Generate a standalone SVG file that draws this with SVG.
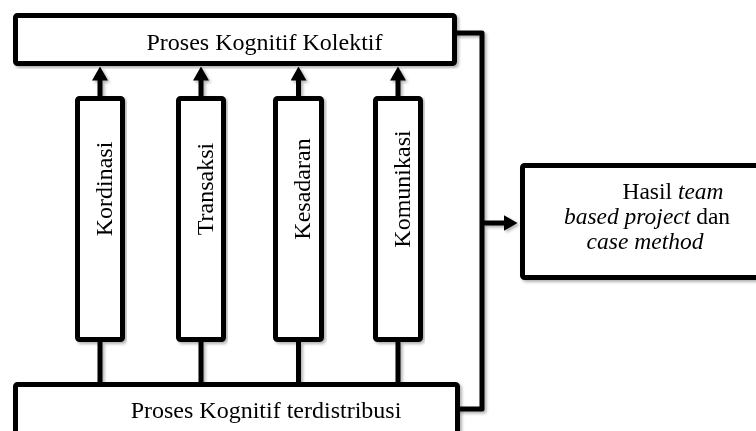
<svg xmlns="http://www.w3.org/2000/svg" width="756" height="431" viewBox="0 0 756 431">
<style>
.box{fill:#fff;stroke:#000;stroke-width:5;stroke-linejoin:round}
.ln{fill:none;stroke:#000;stroke-width:5;stroke-linejoin:round}
.t{font-family:"Liberation Serif","Times New Roman",serif;font-size:24px;fill:#000}
.r{font-family:"Liberation Serif","Times New Roman",serif;font-size:23.5px;fill:#000;text-anchor:middle}
.i{font-style:italic}
</style>
<defs>
<marker id="ah" viewBox="0 0 14 16" refX="0.5" refY="8" markerWidth="14" markerHeight="16" markerUnits="userSpaceOnUse" orient="auto">
<path d="M0,0 L14,8 L0,16 z" fill="#000"/>
</marker>
<filter id="sh" x="-5%" y="-5%" width="115%" height="115%">
<feDropShadow dx="2" dy="2" stdDeviation="1.5" flood-color="#000" flood-opacity="0.3"/>
</filter>
</defs>
<rect width="756" height="431" fill="#fff"/>
<g id="connectors" filter="url(#sh)">
<line class="ln" x1="100" y1="96" x2="100" y2="80" marker-end="url(#ah)"/>
<line class="ln" x1="201" y1="96" x2="201" y2="80" marker-end="url(#ah)"/>
<line class="ln" x1="298.5" y1="96" x2="298.5" y2="80" marker-end="url(#ah)"/>
<line class="ln" x1="398" y1="96" x2="398" y2="80" marker-end="url(#ah)"/>
<line class="ln" x1="100" y1="342" x2="100" y2="384"/>
<line class="ln" x1="201" y1="342" x2="201" y2="384"/>
<line class="ln" x1="298.5" y1="342" x2="298.5" y2="384"/>
<line class="ln" x1="398" y1="342" x2="398" y2="384"/>
<path class="ln" d="M455,33 H482 V409 H458"/>
<line class="ln" x1="482" y1="223" x2="504" y2="223" marker-end="url(#ah)"/>
</g>
<g id="kolektif" filter="url(#sh)">
<rect class="box" x="15.5" y="15.5" width="439" height="48" rx="2"/>
<text class="t" x="264.5" y="50" text-anchor="middle">Proses Kognitif Kolektif</text>
</g>
<g id="kordinasi" filter="url(#sh)">
<rect class="box" x="77.5" y="98.5" width="45" height="241" rx="2"/>
<text class="t" text-anchor="middle" transform="translate(112,189) rotate(-90)">Kordinasi</text>
</g>
<g id="transaksi" filter="url(#sh)">
<rect class="box" x="178.5" y="98.5" width="45" height="241" rx="2"/>
<text class="t" text-anchor="middle" transform="translate(213,189) rotate(-90)">Transaksi</text>
</g>
<g id="kesadaran" filter="url(#sh)">
<rect class="box" x="275.5" y="98.5" width="46" height="241" rx="2"/>
<text class="t" text-anchor="middle" transform="translate(310,189) rotate(-90)">Kesadaran</text>
</g>
<g id="komunikasi" filter="url(#sh)">
<rect class="box" x="375.5" y="98.5" width="45" height="241" rx="2"/>
<text class="t" text-anchor="middle" transform="translate(410,189) rotate(-90)">Komunikasi</text>
</g>
<g id="terdistribusi" filter="url(#sh)">
<rect class="box" x="15.5" y="384.5" width="442" height="70" rx="2"/>
<text class="t" x="266" y="418" text-anchor="middle">Proses Kognitif terdistribusi</text>
</g>
<g id="hasil" filter="url(#sh)">
<rect class="box" x="522.5" y="165.5" width="260" height="112" rx="2"/>
<text class="r" x="673" y="199">Hasil <tspan class="i">team</tspan></text>
<text class="r" x="647" y="224"><tspan class="i">based project</tspan> dan</text>
<text class="r" x="645" y="249"><tspan class="i">case method</tspan></text>
</g>
</svg>
